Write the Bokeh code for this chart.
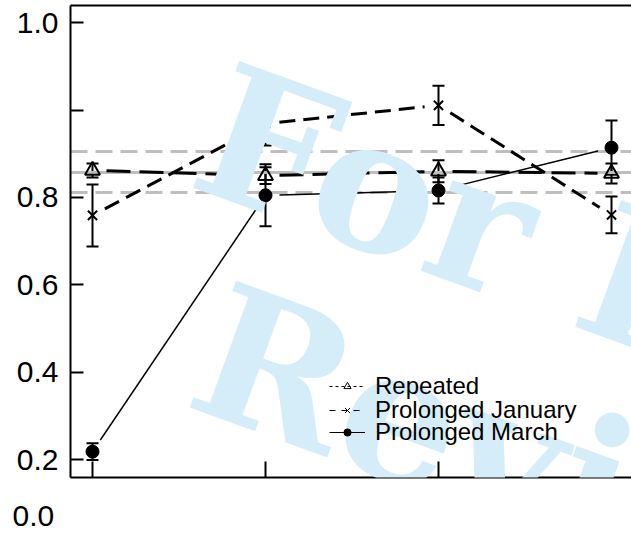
import math
from bokeh.plotting import figure
from bokeh.models import (ColumnDataSource, Range1d, FixedTicker, LinearAxis, Whisker,
                          TeeHead, Legend, LegendItem, Label, Title)
from bokeh.embed import file_html
from bokeh.resources import INLINE

# ---------------- data ----------------
occasions = [1, 2, 3, 4]
repeated = [0.862, 0.850, 0.860, 0.855]
repeated_err = [0.016, 0.019, 0.025, 0.023]
prolonged_january = [0.759, 0.969, 1.011, 0.760]
prolonged_january_err = [0.071, 0.050, 0.045, 0.042]
prolonged_march = [0.218, 0.805, 0.816, 0.914]
prolonged_march_err = [0.019, 0.071, 0.030, 0.062]
reference_mean = [0.857]
reference_band = [0.811, 0.905]
series_names = ["Repeated", "Prolonged January", "Prolonged March"]
y_ticks = [0.2, 0.4, 0.6, 0.8, 1.0, 1.2]
y_tick_labels = ["0.2", "0.4", "0.6", "0.8", "", "1.0"]
extra_y_label = "0.0"
watermark_lines = ["For Peer", "Review"]

# ---------------- layout ----------------
W, H = 631, 552
BL, BR, BT, BB = 70, 0, 5, 75
FW, FH = W - BL - BR, H - BT - BB
X0, X1 = 0.8728, 4.1156
Y0, Y1 = 0.1588, 1.2396
SX, SY = FW / (X1 - X0), FH / (Y1 - Y0)

p = figure(width=W, height=H, output_backend="svg", toolbar_location=None,
           x_range=Range1d(X0, X1), y_range=Range1d(Y0, Y1),
           min_border_left=BL, min_border_right=BR, min_border_top=BT,
           min_border_bottom=BB)
p.outline_line_color = None
p.xgrid.visible = False
p.ygrid.visible = False
p.background_fill_color = "white"
p.border_fill_color = "white"

# axes
ya = p.yaxis[0]
ya.ticker = FixedTicker(ticks=y_ticks)
ya.major_label_overrides = {t: l for t, l in zip(y_ticks, y_tick_labels)}
ya.major_tick_in = 13
ya.major_tick_out = 0
ya.minor_tick_in = 0
ya.minor_tick_out = 0
ya.major_tick_line_width = 2
ya.axis_line_width = 2
ya.major_label_standoff = 12
ya.major_label_text_font = "Liberation Sans"
ya.major_label_text_font_size = "30px"
ya.major_label_text_color = "black"

xa = p.xaxis[0]
xa.ticker = FixedTicker(ticks=occasions)
xa.major_label_overrides = {t: "" for t in occasions}
xa.major_tick_in = 16
xa.major_tick_out = 0
xa.minor_tick_in = 0
xa.minor_tick_out = 0
xa.major_tick_line_width = 2
xa.axis_line_width = 2
xa.major_label_standoff = 0

top = LinearAxis(ticker=FixedTicker(ticks=[]), major_tick_in=0, major_tick_out=0,
                 minor_tick_in=0, minor_tick_out=0, axis_line_width=2,
                 major_label_standoff=0)
p.add_layout(top, "above")

# lowest y label sits below the x axis in the original
p.add_layout(Title(text=extra_y_label, align="left", offset=-58, standoff=52,
                   text_font="Liberation Sans", text_font_size="30px",
                   text_font_style="normal", text_color="black"), "below")

NAN = float("nan")

# reference lines
GREY = "#bebebe"
p.hspan(y=reference_mean, line_color=GREY, line_width=3)
p.hspan(y=reference_band, line_color=GREY, line_width=3, line_dash="17 8")


def gapped(xs, ys, gap=14):
    gx, gy = [], []
    for i in range(len(xs) - 1):
        dx, dy = xs[i + 1] - xs[i], ys[i + 1] - ys[i]
        L = math.hypot(dx * SX, dy * SY)
        f = gap / L
        gx.append([xs[i] + dx * f, xs[i + 1] - dx * f])
        gy.append([ys[i] + dy * f, ys[i + 1] - dy * f])
    return gx, gy


series = [
    (repeated, repeated_err, "24 9", 3, "triangle", dict(size=15, fill_color=None, line_width=2)),
    (prolonged_january, prolonged_january_err, "16 8", 3, "x", dict(size=13, line_width=2)),
    (prolonged_march, prolonged_march_err, "solid", 1.5, "circle", dict(size=13, fill_color="black", line_width=1)),
]
for vals, errs, dash, lw, marker, mk in series:
    gx, gy = gapped(occasions, vals)
    p.multi_line(xs=gx, ys=gy, line_color="black", line_width=lw, line_dash=dash)
    p.scatter(x=occasions, y=vals, marker=marker, line_color="black", **mk)
    src = ColumnDataSource(dict(x=occasions,
                                lower=[v - e for v, e in zip(vals, errs)],
                                upper=[v + e for v, e in zip(vals, errs)]))
    p.add_layout(Whisker(source=src, base="x", lower="lower", upper="upper",
                         dimension="height", line_color="black", line_width=2,
                         upper_head=TeeHead(size=12, line_width=2, line_color="black"),
                         lower_head=TeeHead(size=12, line_width=2, line_color="black")))

# legend (thin glyphs as in the original key); key renderers hold no visible points
leg_specs = [("3 3", "triangle", dict(size=9, fill_color=None)),
             ("6 6", "x", dict(size=8)),
             ("solid", "circle", dict(size=7, fill_color="black"))]
leg_rows_bottom = [77, 53, 31]   # tightly packed key rows, as in the original
for name, (dash, marker, mk), yb in zip(series_names, leg_specs, leg_rows_bottom):
    lr = p.line(x=[NAN], y=[NAN], line_color="black", line_width=1, line_dash=dash)
    mr = p.scatter(x=[NAN], y=[NAN], marker=marker, line_color="black", line_width=1, **mk)
    p.add_layout(Legend(items=[LegendItem(label=name, renderers=[lr, mr])],
                        location=(259, yb), padding=0, margin=0, spacing=0,
                        border_line_color=None, background_fill_alpha=0,
                        glyph_width=36, glyph_height=18, label_height=18, label_standoff=10,
                        label_text_font="Liberation Sans", label_text_font_size="24px",
                        label_text_color="black"))

# watermark
for (wx, wy), txt in zip([(1.663, 0.969), (1.644, 0.466)], watermark_lines):
    p.add_layout(Label(x=wx, y=wy, text=txt, angle=-20, angle_units="deg",
                       text_font="DejaVu Serif", text_font_style="bold",
                       text_font_size="185px", text_color="#d5edf9",
                       text_align="left", text_baseline="alphabetic", level="overlay"))

open("out.html", "w").write(file_html(p, INLINE))
